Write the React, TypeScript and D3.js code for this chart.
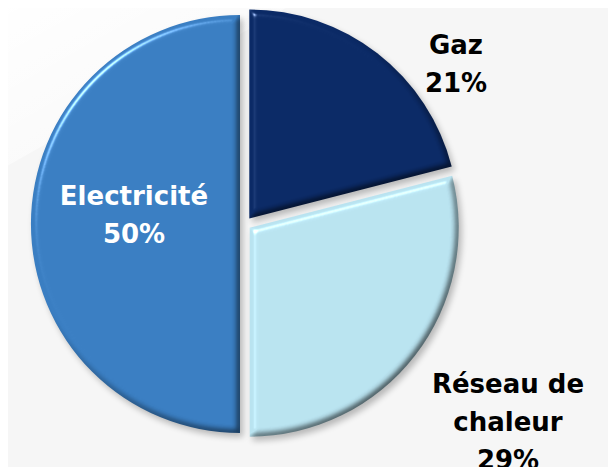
import React, { useEffect, useRef } from "react";
import * as d3 from "d3";

// Data
const categories = ["Electricité", "Gaz", "Réseau de chaleur"];
const shares = [50, 21, 29];
const labelLines = [["Electricité"], ["Gaz"], ["Réseau de", "chaleur"]];
const colors = ["#3a7ec2", "#0b2a66", "#b9e3f0"];
const textColors = ["#ffffff", "#000000", "#000000"];

const W = 616;
const H = 475;

const App = () => {
  const svgRef = useRef<SVGSVGElement>(null);

  useEffect(() => {
    const svg = d3.select(svgRef.current);
    svg.selectAll("*").remove();

    const cx = 245;
    const cy = 224;
    const radius = 209;

    const defs = svg.append("defs");

    // shadow blur
    const sh = defs.append("filter").attr("id", "shadow")
      .attr("x", "-20%").attr("y", "-20%").attr("width", "140%").attr("height", "140%");
    sh.append("feGaussianBlur").attr("stdDeviation", 3);

    // bevel: diffuse shading (multiply) + specular highlight, light from top-left
    const bv = defs.append("filter").attr("id", "bevel")
      .attr("color-interpolation-filters", "sRGB")
      .attr("x", "-5%").attr("y", "-5%").attr("width", "110%").attr("height", "110%");
    bv.append("feGaussianBlur").attr("in", "SourceAlpha").attr("stdDeviation", 3).attr("result", "blur");
    bv.append("feDiffuseLighting")
      .attr("in", "blur").attr("surfaceScale", 4).attr("diffuseConstant", 1.41)
      .attr("lighting-color", "#fff").attr("result", "diff")
      .append("feDistantLight").attr("azimuth", 225).attr("elevation", 45);
    bv.append("feComposite")
      .attr("in", "SourceGraphic").attr("in2", "diff")
      .attr("operator", "arithmetic").attr("k1", 0.55).attr("k2", 0.45).attr("k3", 0).attr("k4", 0)
      .attr("result", "shaded");
    bv.append("feSpecularLighting")
      .attr("in", "blur").attr("surfaceScale", 4).attr("specularConstant", 0.6)
      .attr("specularExponent", 60).attr("lighting-color", "#fff").attr("result", "spec")
      .append("feDistantLight").attr("azimuth", 225).attr("elevation", 45);
    bv.append("feComposite")
      .attr("in", "spec").attr("in2", "SourceAlpha").attr("operator", "in").attr("result", "specIn");
    bv.append("feComposite")
      .attr("in", "shaded").attr("in2", "specIn")
      .attr("operator", "arithmetic").attr("k1", 0).attr("k2", 1).attr("k3", 1).attr("k4", 0);

    // background
    svg.append("rect").attr("width", W).attr("height", H).attr("fill", "#f6f6f6");
    const bg = defs.append("linearGradient").attr("id", "bgsheen")
      .attr("x1", 0).attr("y1", 0).attr("x2", 1).attr("y2", 1);
    bg.append("stop").attr("offset", "0%").attr("stop-color", "#fff").attr("stop-opacity", 1);
    bg.append("stop").attr("offset", "100%").attr("stop-color", "#fff").attr("stop-opacity", 0);
    svg.append("path").attr("d", `M0,0 L300,0 L0,170 Z`).attr("fill", "url(#bgsheen)");

    const data = categories.map((c, i) => ({ name: c, value: shares[i], i }));
    const pie = d3.pie<any>().value(d => d.value).sort(null)
      .startAngle(0).endAngle(2 * Math.PI);
    // Gaz starts at 12 o'clock, Electricité fills the left half
    const arcs = pie([data[1], data[2], data[0]]);

    const arc = d3.arc<any>().innerRadius(0).outerRadius(radius);
    const explode = [5, 7, 6];

    const offsets = arcs.map(a => {
      const i = a.data.i;
      const mid = (a.startAngle + a.endAngle) / 2;
      return [cx + Math.sin(mid) * explode[i], cy - Math.cos(mid) * explode[i]];
    });

    // shadows first, under all slices
    arcs.forEach((a, k) => {
      const [x, y] = offsets[k];
      svg.append("path")
        .attr("transform", `translate(${x + 3},${y + 4})`)
        .attr("d", arc(a) as string)
        .attr("fill", "#000")
        .attr("opacity", 0.25)
        .attr("filter", "url(#shadow)");
    });

    arcs.forEach((a, k) => {
      const i = a.data.i;
      const [x, y] = offsets[k];
      svg.append("path")
        .attr("transform", `translate(${x},${y})`)
        .attr("d", arc(a) as string)
        .attr("fill", colors[i])
        .attr("filter", "url(#bevel)");
    });

    // labels
    const labelPos = [[134, 205], [456, 54], [508, 393]];
    const lh = 38;
    arcs.forEach(a => {
      const i = a.data.i;
      const [lx, ly] = labelPos[i];
      const lines = [...labelLines[i], `${a.data.value}%`];
      const t = svg.append("text")
        .attr("text-anchor", "middle")
        .attr("font-family", "'DejaVu Sans', sans-serif")
        .attr("font-weight", "bold")
        .attr("font-size", 26)
        .attr("fill", textColors[i]);
      lines.forEach((ln, k) => {
        t.append("tspan")
          .attr("x", lx)
          .attr("y", ly + k * lh)
          .text(ln);
      });
    });
  }, []);

  return (
    <div style={{ width: W, height: H, margin: -8 }}>
      <svg ref={svgRef} width={W} height={H} style={{ display: "block" }}></svg>
    </div>
  );
};

export default App;
